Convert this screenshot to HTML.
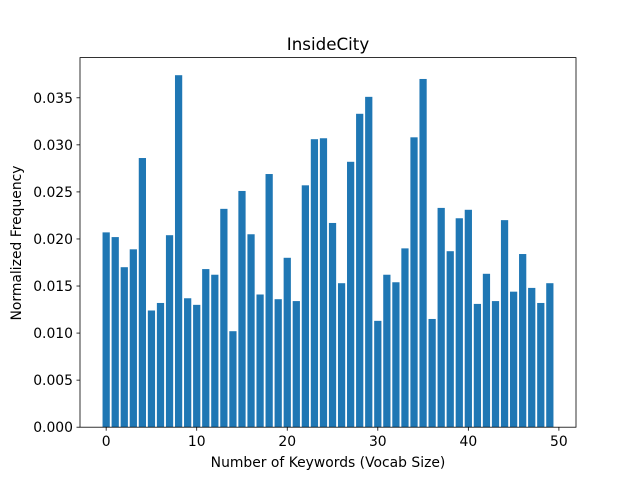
<!DOCTYPE html>
<html><head><meta charset="utf-8"><style>
body{margin:0;background:#fff;}
svg{display:block;font-family:"DejaVu Sans","Liberation Sans",sans-serif;}
</style></head><body>
<svg id="chart" width="640" height="480">
<rect width="640" height="480" fill="#fff"/>
<text x="328" y="50" text-anchor="middle" font-size="16.7">InsideCity</text>
<g id="bars"></g>
<g id="axes"></g>
<text x="328" y="467" text-anchor="middle" font-size="13.9">Number of Keywords (Vocab Size)</text>
<text transform="translate(21,243) rotate(-90)" text-anchor="middle" font-size="13.9">Normalized Frequency</text>
</svg>
<script>
const categories = Array.from({length:50},(_, i)=>i);
const values = [0.0207,0.0202,0.0170,0.0189,0.0286,0.0124,0.0132,0.0204,0.0374,0.0137,
0.0130,0.0168,0.0162,0.0232,0.0102,0.0251,0.0205,0.0141,0.0269,0.0136,
0.0180,0.0134,0.0257,0.0306,0.0307,0.0217,0.0153,0.0282,0.0333,0.0351,
0.0113,0.0162,0.0154,0.0190,0.0308,0.0370,0.0115,0.0233,0.0187,0.0222,
0.0231,0.0131,0.0163,0.0134,0.0220,0.0144,0.0184,0.0148,0.0132,0.0153];
const xTicks = [0,10,20,30,40,50];
const yTicks = [0,0.005,0.010,0.015,0.020,0.025,0.030,0.035];

const L=80,R=576,T=57.6,B=427.2;
const xmin=-0.4-0.05*(49.8), xmax=49.4+0.05*49.8;
const ymax=Math.max(...values)*1.05;
const xs=v=>L+(v-xmin)/(xmax-xmin)*(R-L);
const ys=v=>B-v/ymax*(B-T);
const NS="http://www.w3.org/2000/svg";
const bars=document.getElementById('bars'), axes=document.getElementById('axes');
function mk(tag,attrs,parent){const e=document.createElementNS(NS,tag);for(const k in attrs)e.setAttribute(k,attrs[k]);parent.appendChild(e);return e;}
categories.forEach((c,i)=>{
  const x0=xs(c-0.4), x1=xs(c+0.4), y=ys(values[i]);
  const r=mk('rect',{x:x0,y:y,width:x1-x0,height:B-y,fill:'#1f77b4'},bars);
  
  
});
const frame=mk('rect',{x:L,y:T,width:R-L,height:B-T,fill:'none',stroke:'#000','stroke-width':0.8},axes);


xTicks.forEach(t=>{
  const x=xs(t);
  mk('line',{x1:x,x2:x,y1:B,y2:B+3.5,stroke:'#000','stroke-width':0.8},axes);
  const tx=mk('text',{x:x,y:B+19,'text-anchor':'middle','font-size':13.9},axes);
  tx.textContent=t;
  
  
});
yTicks.forEach(t=>{
  const y=ys(t);
  mk('line',{x1:L-3.5,x2:L,y1:y,y2:y,stroke:'#000','stroke-width':0.8},axes);
  const tx=mk('text',{x:L-7,y:y+5,'text-anchor':'end','font-size':13.9},axes);
  tx.textContent=t.toFixed(3);
  
  
});
</script>
</body></html>
